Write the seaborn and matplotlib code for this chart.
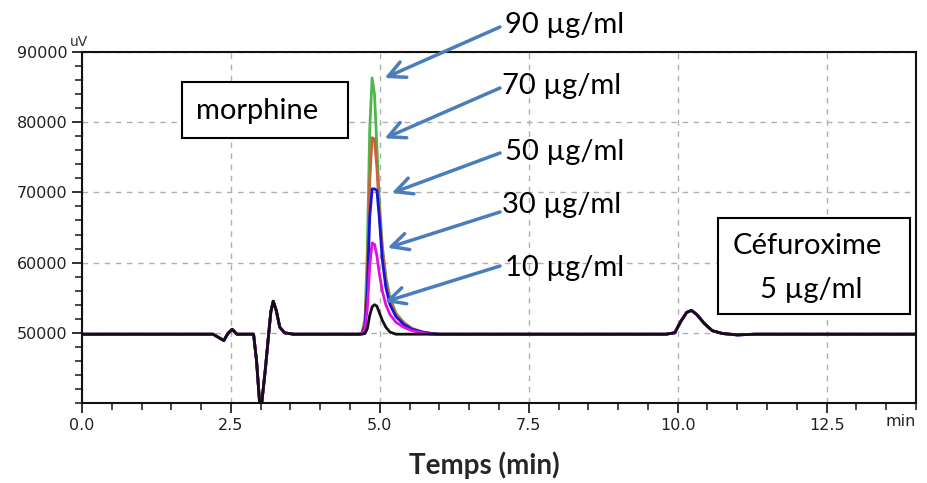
import numpy as np
import pandas as pd
import seaborn as sns
from matplotlib import pyplot as plt
from matplotlib.patches import Rectangle
from matplotlib.ticker import MultipleLocator

# Ligne de base commune (avant le pic de morphine)
t_pre = [0.0, 2.20, 2.30, 2.38, 2.45, 2.52, 2.60, 2.88, 2.93, 2.98, 3.02, 3.08,
         3.13, 3.17, 3.21, 3.26, 3.32, 3.40, 3.55, 4.65]
s_pre = [49800, 49800, 49300, 48900, 49900, 50500, 49800, 49800, 46000, 40200, 40200, 45000,
         49500, 53000, 54500, 53200, 50800, 50000, 49800, 49800]

# Pic de morphine
t_peak = [4.70, 4.75, 4.79, 4.83, 4.87, 4.91, 4.95, 4.99, 5.04, 5.10, 5.17, 5.27,
          5.40, 5.54, 5.72, 5.87, 6.00]
pic_90 = [50000, 52000, 62000, 79000, 86300, 84000, 76500, 69000, 62500, 58000, 55000, 52800,
          51500, 50600, 50100, 49900, 49800]
pic_70 = [49900, 51500, 58000, 71500, 77800, 77600, 73500, 67500, 62000, 57500, 54600, 52600,
          51400, 50600, 50100, 49900, 49800]
pic_50 = [49900, 51000, 56000, 66500, 70500, 70500, 70300, 66500, 60500, 56500, 54000, 52300,
          51200, 50500, 50100, 49900, 49800]
pic_30 = [49900, 50600, 53500, 59500, 62800, 62600, 61000, 58500, 56000, 54000, 52600, 51500,
          50800, 50300, 50000, 49800, 49800]
pic_10 = [49800, 49900, 50600, 52500, 53700, 54000, 53800, 52900, 51800, 50800, 50100, 49800,
          49800, 49800, 49800, 49800, 49800]

# Ligne de base commune (après, avec la céfuroxime)
t_post = [6.10, 9.80, 9.95, 10.05, 10.15, 10.23, 10.32, 10.45, 10.58, 10.75, 11.00, 11.30, 14.0]
s_post = [49800, 49800, 50000, 51600, 52900, 53200, 52600, 51300, 50300, 49900, 49700, 49800, 49800]

concentrations = ['90', '70', '50', '30', '10']
pics = [pic_90, pic_70, pic_50, pic_30, pic_10]
couleurs = ['#4cb84c', '#c8643c', '#1414dc', '#e010e0', '#111111']

# Tableau long pour seaborn
frames = []
for conc, pic in zip(concentrations, pics):
    frames.append(pd.DataFrame({'t': t_pre + t_peak + t_post,
                                'signal': s_pre + pic + s_post,
                                'conc': conc}))
df = pd.concat(frames, ignore_index=True)

sns.set_style("ticks")
plt.rcParams['font.family'] = ['DejaVu Sans']

W, H = 928, 483
fig = plt.figure(figsize=(W / 100, H / 100), dpi=100)
ax = fig.add_axes([82 / W, 1 - 403 / H, (916 - 82) / W, (403 - 52) / H])

sns.lineplot(data=df, x='t', y='signal', hue='conc', hue_order=concentrations,
             palette=couleurs, estimator=None, sort=False, lw=2, legend=False, ax=ax)

ax.set_xlim(0, 14)
ax.set_ylim(40000, 90000)
ax.xaxis.set_minor_locator(MultipleLocator(0.5))
ax.yaxis.set_minor_locator(MultipleLocator(2000))
ax.set_xticks([0, 2.5, 5, 7.5, 10, 12.5])
ax.set_xticklabels(['0.0', '2.5', '5.0', '7.5', '10.0', '12.5'])
ax.set_yticks([50000, 60000, 70000, 80000, 90000])
ax.set_yticklabels(['50000', '60000', '70000', '80000', '90000'])
ax.tick_params(which='major', length=7, width=1.3, labelsize=11.5, colors='#222222', direction='out')
ax.tick_params(which='minor', length=5, width=1.2, direction='out')
ax.grid(True, which='major', ls=(0, (4, 4)), color='#b0b0b0', lw=1)
ax.set_xlabel('')
ax.set_ylabel('')
for sp in ax.spines.values():
    sp.set_linewidth(1.5)
    sp.set_color('#111111')

fig.text(70 / W, 1 - 42 / H, 'uV', fontsize=10, color='#333333', va='center', ha='left')
fig.text(916 / W, 1 - 421 / H, 'min', fontsize=11.5, color='#222222', va='center', ha='right')

# Étiquettes des concentrations avec flèches
texte = dict(family=['Lato', 'DejaVu Sans'], fontsize=21, color='black')
etiquettes = [('90 µg/ml', 505, 25, 500, 27, 5.08, 86300),
              ('70 µg/ml', 502, 86, 500, 88, 5.08, 77700),
              ('50 µg/ml', 505, 152, 500, 153, 5.20, 69900),
              ('30 µg/ml', 502, 205, 500, 212, 5.13, 62100),
              ('10 µg/ml', 505, 268, 500, 266, 5.08, 54400)]
for lab, tx, ty, ax0, ay0, px, py in etiquettes:
    fig.text(tx / W, 1 - ty / H, lab, ha='left', va='center', **texte)
    ax.annotate('', xy=(px, py), xycoords='data',
                xytext=(ax0, H - ay0), textcoords='figure pixels',
                arrowprops=dict(arrowstyle='->', color='#4a7ebb', lw=2.5,
                                mutation_scale=30, shrinkA=0, shrinkB=0))

# Encadrés
fig.add_artist(Rectangle((182 / W, 1 - 138 / H), 166 / W, 56 / H, transform=fig.transFigure,
                         fc='white', ec='black', lw=1.5, zorder=5))
fig.text(196 / W, 1 - 111 / H, 'morphine', ha='left', va='center', zorder=6, **texte)

fig.add_artist(Rectangle((718 / W, 1 - 314 / H), 192 / W, 96 / H, transform=fig.transFigure,
                         fc='white', ec='black', lw=1.5, zorder=5))
fig.text(733 / W, 1 - 246 / H, 'Céfuroxime', ha='left', va='center', zorder=6, **texte)
fig.text(760 / W, 1 - 290 / H, '5 µg/ml', ha='left', va='center', zorder=6, **texte)

fig.text(484 / W, 1 - 465 / H, 'Temps (min)', ha='center', va='center',
         family=['Lato', 'DejaVu Sans'], fontsize=20, fontweight='bold')

fig.savefig('out.png', dpi=100)
